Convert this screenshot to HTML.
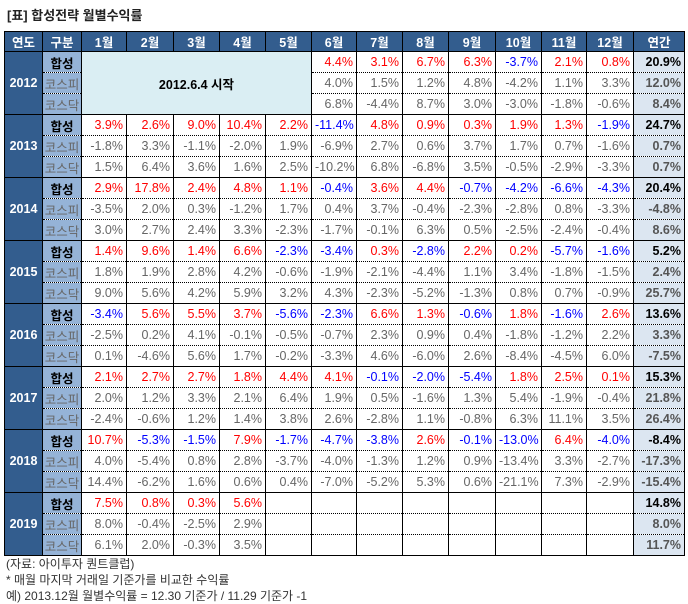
<!DOCTYPE html>
<html><head><meta charset="utf-8">
<style>
body{margin:0;width:688px;height:604px;background:#fff;font-family:"Liberation Sans","Noto Sans CJK KR",sans-serif;position:relative;overflow:hidden}
#title{position:absolute;left:7px;top:5px;font-size:13px;font-weight:bold;color:#222}
table{position:absolute;left:4px;top:31px;border-collapse:collapse;table-layout:fixed;width:680px;font-size:12.5px}
td,th{padding:0 3px;overflow:hidden;white-space:nowrap}
th{height:19px;background:#335d8e;color:#fff;font-weight:bold;border:1px solid #000;text-align:center}
td{height:20px;text-align:right;border-left:1px solid #000;border-right:1px solid #000}
td.yr{background:#335d8e;color:#fff;font-weight:bold;text-align:center;border:1px solid #000}
td.cat{background:#95b3d7;text-align:center;color:#666;padding:0}
td.cat.h{color:#000;font-weight:bold}
tr.top td{border-top:1px solid #000}
tr.mid td,tr.bot td{border-top:1px dotted #000}
tr.bot td{border-bottom:1px solid #000}
td.ann{background:#dce6f1;font-weight:bold;color:#555}
td.ann.h{color:#000}
td.pos{color:#f00}td.neg{color:#00f}td.g{color:#666}
td.start{background:#daeef3;text-align:center;font-weight:bold;color:#000;border-bottom:1px solid #000}
.foot{position:absolute;left:6px;font-size:12px;color:#333}
</style></head><body>
<div id="title">[표] 합성전략 월별수익률</div>
<table id="tbl">
<colgroup><col style="width:38px"><col style="width:39px"><col style="width:45px"><col style="width:47px"><col style="width:46px"><col style="width:46px"><col style="width:46px"><col style="width:45px"><col style="width:46px"><col style="width:46px"><col style="width:47px"><col style="width:46px"><col style="width:45px"><col style="width:47px"><col style="width:51px"></colgroup>
</table>
<div class="foot" style="top:555px">(자료: 아이투자 퀀트클럽)</div>
<div class="foot" style="top:571px">* 매월 마지막 거래일 기준가를 비교한 수익률</div>
<div class="foot" style="top:587px">예) 2013.12월 월별수익률 = 12.30 기준가 / 11.29 기준가 -1</div>
<script>
const headers=["연도","구분","1월","2월","3월","4월","5월","6월","7월","8월","9월","10월","11월","12월","연간"];
const years=[2012,2013,2014,2015,2016,2017,2018,2019];
const cats=["합성","코스피","코스닥"];
const synth=[
[null,null,null,null,null,4.4,3.1,6.7,6.3,-3.7,2.1,0.8],
[3.9,2.6,9.0,10.4,2.2,-11.4,4.8,0.9,0.3,1.9,1.3,-1.9],
[2.9,17.8,2.4,4.8,1.1,-0.4,3.6,4.4,-0.7,-4.2,-6.6,-4.3],
[1.4,9.6,1.4,6.6,-2.3,-3.4,0.3,-2.8,2.2,0.2,-5.7,-1.6],
[-3.4,5.6,5.5,3.7,-5.6,-2.3,6.6,1.3,-0.6,1.8,-1.6,2.6],
[2.1,2.7,2.7,1.8,4.4,4.1,-0.1,-2.0,-5.4,1.8,2.5,0.1],
[10.7,-5.3,-1.5,7.9,-1.7,-4.7,-3.8,2.6,-0.1,-13.0,6.4,-4.0],
[7.5,0.8,0.3,5.6,null,null,null,null,null,null,null,null]];
const kospi=[
[null,null,null,null,null,4.0,1.5,1.2,4.8,-4.2,1.1,3.3],
[-1.8,3.3,-1.1,-2.0,1.9,-6.9,2.7,0.6,3.7,1.7,0.7,-1.6],
[-3.5,2.0,0.3,-1.2,1.7,0.4,3.7,-0.4,-2.3,-2.8,0.8,-3.3],
[1.8,1.9,2.8,4.2,-0.6,-1.9,-2.1,-4.4,1.1,3.4,-1.8,-1.5],
[-2.5,0.2,4.1,-0.1,-0.5,-0.7,2.3,0.9,0.4,-1.8,-1.2,2.2],
[2.0,1.2,3.3,2.1,6.4,1.9,0.5,-1.6,1.3,5.4,-1.9,-0.4],
[4.0,-5.4,0.8,2.8,-3.7,-4.0,-1.3,1.2,0.9,-13.4,3.3,-2.7],
[8.0,-0.4,-2.5,2.9,null,null,null,null,null,null,null,null]];
const kosdaq=[
[null,null,null,null,null,6.8,-4.4,8.7,3.0,-3.0,-1.8,-0.6],
[1.5,6.4,3.6,1.6,2.5,-10.2,6.8,-6.8,3.5,-0.5,-2.9,-3.3],
[3.0,2.7,2.4,3.3,-2.3,-1.7,-0.1,6.3,0.5,-2.5,-2.4,-0.4],
[9.0,5.6,4.2,5.9,3.2,4.3,-2.3,-5.2,-1.3,0.8,0.7,-0.9],
[0.1,-4.6,5.6,1.7,-0.2,-3.3,4.6,-6.0,2.6,-8.4,-4.5,6.0],
[-2.4,-0.6,1.2,1.4,3.8,2.6,-2.8,1.1,-0.8,6.3,11.1,3.5],
[14.4,-6.2,1.6,0.6,0.4,-7.0,-5.2,5.3,0.6,-21.1,7.3,-2.9],
[6.1,2.0,-0.3,3.5,null,null,null,null,null,null,null,null]];
const annSynth=[20.9,24.7,20.4,5.2,13.6,15.3,-8.4,14.8];
const annKospi=[12.0,0.7,-4.8,2.4,3.3,21.8,-17.3,8.0];
const annKosdaq=[8.4,0.7,8.6,25.7,-7.5,26.4,-15.4,11.7];

const tbl=document.getElementById('tbl');
const hr=document.createElement('tr');


headers.forEach(h=>{const th=document.createElement('th');th.textContent=h;


hr.appendChild(th);});
tbl.appendChild(hr);
const fmt=v=>v.toFixed(1)+'%';
years.forEach((y,yi)=>{
  const series=[synth[yi],kospi[yi],kosdaq[yi]];
  const anns=[annSynth[yi],annKospi[yi],annKosdaq[yi]];
  for(let r=0;r<3;r++){
    const tr=document.createElement('tr');
    tr.className=['top','mid','bot'][r];
    
    
    if(r===0){const td=document.createElement('td');td.className='yr';td.rowSpan=3;td.textContent=y;
      
      
      tr.appendChild(td);}
    const c=document.createElement('td');c.className='cat'+(r===0?' h':'');c.textContent=cats[r];
    
    
    tr.appendChild(c);
    const vals=series[r];
    for(let m=0;m<12;m++){
      if(y===2012&&m<5){
        if(r===0&&m===0){const td=document.createElement('td');td.className='start';td.colSpan=5;td.rowSpan=3;td.textContent='2012.6.4 시작';
          
          
          tr.appendChild(td);}
        continue;
      }
      const td=document.createElement('td');
      const v=vals[m];
      if(v!==null){td.textContent=fmt(v);
        td.className=r===0?(v<0?'neg':'pos'):'g';}
      
      
      tr.appendChild(td);
    }
    const a=document.createElement('td');a.className='ann'+(r===0?' h':'');a.textContent=fmt(anns[r]);
    
    
    tr.appendChild(a);
    tbl.appendChild(tr);
  }
});
</script>
</body></html>
